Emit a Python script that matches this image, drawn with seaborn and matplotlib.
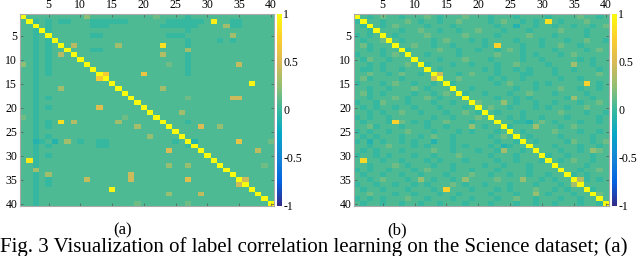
import numpy as np
import pandas as pd
import matplotlib
matplotlib.use("Agg")
import matplotlib.pyplot as plt
import seaborn as sns
from matplotlib.colors import LinearSegmentedColormap

# Label correlation matrices (40 labels, Science dataset)
n_labels = 40
labels = list(range(1, n_labels + 1))
tick_labels = [5, 10, 15, 20, 25, 30, 35, 40]
cbar_ticks = [-1, -0.5, 0, 0.5, 1]
cbar_ticklabels = ["-1", "-0.5", "0", "0.5", "1"]

# background level codes
level_values = {"=": -0.1, "-": -0.01, ".": 0.06, "+": 0.15}

# (a) background, 4 groups of 10 columns per row
grid_a = [
    ".......... +......... .+....-... ..........",
    "..-.-.--.. .------... ...------. ...--.....",
    "..-.-..... .---...... ..------.. ..+--.....",
    "..-.-..... .......... ......-... ..........",
    "..-.-..... .--....... ...---.... ...+......",
    "..-.-..... .......... ......-... .-.-......",
    "..-.-..... .......... ......-... ..........",
    "..-.-..... .--....... ......+... ..........",
    "..-.-..... .......... ......-... ..........",
    "..-.-..... .......... ......-... ..........",
    "+.-.-..... .......... ...+..-... ..........",
    "..-.-..... .......... ......-... ..........",
    "..-.-..... .......... ......-... ..........",
    "..-....... .......... .......... ..........",
    "..-....... .......... .......... ..........",
    "..-....... .......... .......... ..........",
    "..-....... .......... .......... ..........",
    "..-.-..... .......... ......+... ..........",
    "..-....... .......... .......... ..........",
    "..-.-..... .......... .......... ..........",
    "..-....... .......... .......... ..........",
    "+.-....... ......+... .......... ..........",
    "..-.-..... .......... ......-... ..........",
    "..-.-..... .......... .......... ..........",
    "..-....... .......... .......... ..........",
    "..-.-..... .......... .......... ..........",
    "..=-.=...- ..--...... ....-.-=.. .........+",
    "..-.-..... ..--...... ......-... ..........",
    "..-....... .......... .......... ..........",
    "..-.-..... .......... .......... ..........",
    "..-....... .......... .......... ..........",
    "..-....... .......... .......... ........+.",
    "..+....... .......... .......... ..........",
    "..-....... .......... .......... ..........",
    "..-.-..... .......... .......... ..........",
    "..-.-..... .......... .......... ..........",
    "..-....... .......... .......... ..........",
    "..-....... .......... .......... ..........",
    "..-....... .......... .......... ..........",
    "..-....... ........+. ......+... ..........",
]

# (a) strong off-diagonal entries: (row, col, value)
peaks_a = [
    (2, 31, 0.92), (31, 2, 0.9), (7, 23, 0.85), (23, 7, 0.85),
    (13, 14, 0.68), (14, 13, 0.68), (13, 20, 0.62), (20, 13, 0.55),
    (15, 37, 0.95), (37, 15, 0.95), (18, 34, 0.45), (18, 35, 0.45),
    (11, 35, 0.42), (24, 29, 0.52), (29, 24, 0.52), (27, 35, 0.6),
    (35, 27, 0.55), (34, 18, 0.45), (35, 18, 0.45), (35, 11, 0.42),
    (7, 9, 0.38), (9, 7, 0.38), (23, 9, 0.36), (9, 23, 0.36),
    (35, 36, 0.45), (36, 35, 0.45), (3, 33, 0.3), (5, 34, 0.3),
    (29, 38, 0.4), (38, 29, 0.4), (24, 19, 0.32), (7, 16, 0.3),
    (23, 16, 0.3), (16, 7, 0.3), (16, 23, 0.3), (8, 27, 0.3),
    (27, 8, 0.3), (21, 26, 0.3), (33, 3, 0.3), (34, 5, 0.3),
    (24, 32, 0.26), (32, 24, 0.26), (32, 27, 0.26), (38, 24, 0.26),
    (26, 21, 0.26), (1, 11, 0.24), (11, 1, 0.24),
]

# (b) background
grid_b = [
    "..-.+..-.. .+.-...+.. .-...-.... -....+..-.",
    "-...-...+. -..-..+... .-.+..-.-. ..-...+...",
    ".-..-.+... .-...-.... ..-..=..-. .-..-..-.+",
    "..-....-.. +..-..-..+ ...-...-.. ..+...-...",
    "-.-.-.-... .+.....+.. ..-....+.. .-....-...",
    ".-..+..-.. ..-.+...-. -....-...- ...-..+..-",
    ".+-...-..+ ..-..-.... -.....-..- ..+..-....",
    "..-.-...-. ...+..-..- ..-.+.-... .-....-.+.",
    "-...-.+... .-....-... ..+...-.-. ..-.+.....",
    ".-+..-...- ...-...+.. .-....-..- .....-.-..",
    "..-.-...+. .-...-..-. ..-..+.... -...+..-..",
    ".--.-..-.. .-.-...... -.-..-.-.. .-..-...-.",
    "..+..-.+.. -..-..-.+. ..-...--.. .-......+.",
    ".+-....-.. ..-...+... .-.-..-... ..-..-....",
    "-...-.+..- ..-..-.... ..-.+...-. -.......-.",
    "..-..-...+ .-...-..-. .....-..-. ..+..-..-.",
    ".+-.-....- ..-.+..-.. -...-..+.. .-....-...",
    "..-...+.-. .+.-...-.. ..-..-.-.. ...-+..-..",
    "-..-+...-. ..-..-...+ ...+.-..-. .-...-..+.",
    ".-.-..-..- ...-...-.. .+..-...-. -..-..+...",
    "..-.-..+.. -...-..+.- ..-...-... ..+...-..-",
    "-.-..-.... ..-..-...+ .-..-.-..- ...-....-.",
    ".-...-.+.- .-..+...-. ..-..--=.+ .-...-..-.",
    "..+-...-.. .-..-...+. -...-...-. ..-.+.....",
    "-.-..-..+. ..-...-.-. ..-...-... .+...-..-.",
    ".-.-...-.. -.+..-.... .-.+...-.. ..-....-..",
    "-.=.-..-.- ..=..-.... ..-..-..-. ...-+..-.+",
    "..-..+...- .-...-.-.. .-.=-..... .-...-..-.",
    ".-.-...-.. ..+..-...- ..-+..-.-. ..-..-..+.",
    "-..-.-...- ..-...+... .-...-.... -..-...-..",
    ".+..-..-.. .-.-...-.. ..-..-...- ..-.+..-..",
    "..-...+.-. ..-..-.... -..-...-.. .-....-...",
    "-.-..-...- .+...-..-. ..-....-.. ..-..-..+.",
    ".-..-..-.. -...-...+. .-..-..-.. -...-.-...",
    "..-.+...-. ..-..-.... ..+...-..- .-....-.-.",
    "-..-..-..- .-...+.-.. -...-...-. ..-..+....",
    ".-..-...-. ..-.-...-. ..-.-...+. .-.-...-..",
    "..+...-..- ...-..-... .-...-.... -...-...+.",
    "-.-.-...+. .-...-..-. ..-..+..-. ..-..-....",
    ".-..-..-.. -..-...-.. .-...-..-. .-...-..-.",
]

# (b) strong off-diagonal entries
peaks_b = [
    (2, 31, 0.85), (31, 2, 0.8), (7, 23, 0.76), (23, 7, 0.76),
    (15, 37, 0.76), (37, 15, 0.76), (13, 14, 0.45), (14, 13, 0.45),
    (11, 35, 0.3), (18, 35, 0.26), (19, 24, 0.26), (24, 19, 0.26),
    (24, 29, 0.3), (29, 24, 0.3), (29, 38, 0.26), (35, 11, 0.26),
    (35, 18, 0.26), (35, 27, 0.26), (38, 29, 0.26), (35, 36, 0.36),
    (36, 35, 0.32),
]


def build_matrix(grid, peaks):
    rows = [[level_values[ch] for ch in line.replace(" ", "")] for line in grid]
    mat = np.array(rows, dtype=float)
    for r, c, v in peaks:
        mat[r - 1, c - 1] = v
    np.fill_diagonal(mat, 1.0)
    return pd.DataFrame(mat, index=labels, columns=labels)


corr_a = build_matrix(grid_a, peaks_a)
corr_b = build_matrix(grid_b, peaks_b)

# parula-like colormap
parula = LinearSegmentedColormap.from_list(
    "parula",
    ["#352a87", "#0363e1", "#1485d4", "#06a7c6", "#38b99e",
     "#92bf73", "#d9ba56", "#fcce2e", "#f9fb0e"],
)

plt.rcParams["font.family"] = ["Liberation Serif", "DejaVu Serif"]

fig = plt.figure(figsize=(6.4, 2.56), dpi=100)
W, H = 640.0, 256.0

panels = [
    (corr_a, 20, 274, 277, "(a)", 123),
    (corr_b, 354, 609, 612, "(b)", 397),
]

for data, x0, x1, cx, name, name_x in panels:
    ax = fig.add_axes([x0 / W, 1 - 206 / H, (x1 - x0) / W, 192 / H])
    cax = fig.add_axes([cx / W, 1 - 206 / H, 5 / W, 192 / H])
    sns.heatmap(data, ax=ax, cbar_ax=cax, cmap=parula, vmin=-1, vmax=1,
                xticklabels=False, yticklabels=False)
    ax.set_xticks([t - 0.5 for t in tick_labels])
    ax.set_xticklabels(tick_labels)
    ax.set_yticks([t - 0.5 for t in tick_labels])
    ax.set_yticklabels(tick_labels, rotation=0)
    ax.tick_params(direction="in", length=2, width=0.5, color="#555555",
                   top=True, bottom=True, left=True, right=True,
                   labeltop=True, labelbottom=False, labelsize=8.5, pad=2)
    for sp in ax.spines.values():
        sp.set_visible(True)
        sp.set_color("#aaaaaa")
        sp.set_linewidth(0.8)
    cax.set_yticks(cbar_ticks)
    cax.set_yticklabels(cbar_ticklabels)
    cax.tick_params(direction="in", length=0, labelsize=8.5, pad=1)
    fig.text(name_x / W, 1 - 230 / H, name, ha="center", va="center",
             fontsize=12)

fig.text(0.0, 1 - 252 / H,
         "Fig. 3 Visualization of label correlation learning on the Science dataset; (a)",
         ha="left", va="baseline", fontsize=15)

fig.savefig("out.png", dpi=100)
